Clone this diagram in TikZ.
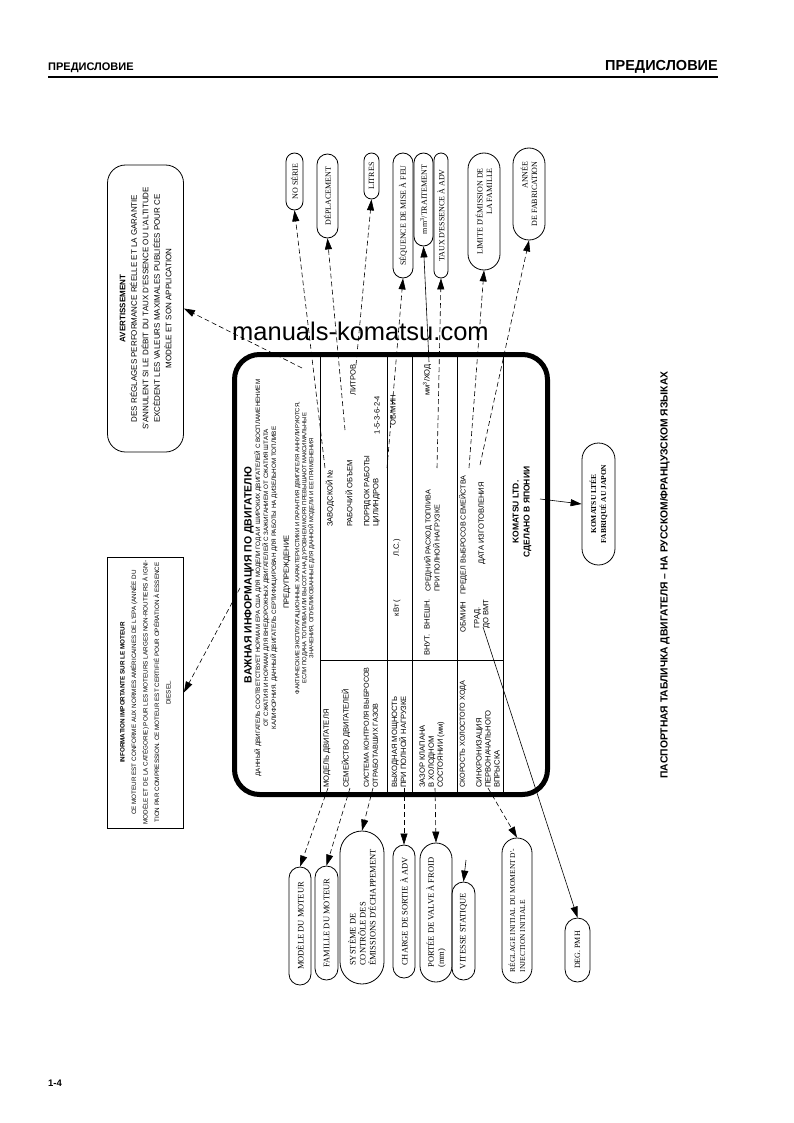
\documentclass[tikz,border=0pt]{standalone}
\usepackage{fontspec}
\setmainfont{Liberation Sans}
\newfontfamily\bubfont{Liberation Serif}
\usetikzlibrary{arrows.meta}
\newcommand\fsz[2]{\fontsize{#1}{#2}\selectfont}
\begin{document}
\begin{tikzpicture}[x=1pt,y=-1pt,
  rt/.style={rotate=90, inner sep=0pt},
  bub/.style={draw, line width=0.8pt, rotate=90, inner sep=1pt, font=\bubfont\fsz{8}{9.5}},
  con/.style={line width=0.6pt, dash pattern=on 5pt off 3pt, -{Triangle[length=11pt,width=7pt]}},
  sol/.style={line width=0.6pt, -{Triangle[length=11pt,width=7pt]}},
  tl/.style={line width=1pt},
  lab/.style={rt, font=\fsz{7.6}{9}},
]
\useasboundingbox (0,0) rectangle (793,1123);
\fill[white] (0,0) rectangle (793,1123);

% header
\node[anchor=west, inner sep=0pt, font=\bfseries\fsz{11}{12}] (hl) at (48,68) {ПРЕДИСЛОВИЕ};
\node[anchor=east, inner sep=0pt, font=\bfseries\fsz{14.5}{16}] (hr) at (718,67) {ПРЕДИСЛОВИЕ};
\draw[line width=2pt] (48,77) -- (718,77);
\node[anchor=west, inner sep=0pt, font=\bfseries\fsz{9.5}{10}] (pg) at (48,1083) {1-4};

% caption
\node[rt, font=\bfseries\fsz{10.3}{12}] (cap) at (665,575) {ПАСПОРТНАЯ ТАБЛИЧКА ДВИГАТЕЛЯ – НА РУССКОМ/ФРАНЦУЗСКОМ ЯЗЫКАХ};

% watermark
\node[anchor=base west, inner sep=0pt, font=\fsz{25.5}{27}] (wm) at (232,340) {manuals-komatsu.com};

% plate
\node[draw, line width=5pt, rounded corners=25pt, minimum width=313pt, minimum height=440pt, inner sep=0pt] (plate) at (391,574.5) {};
\draw[tl] (320,357) -- (320,792);
\draw[tl] (387,357) -- (387,792);
\draw[tl] (412,357) -- (412,792);
\draw[tl] (457,357) -- (457,792);
\draw[tl] (503,357) -- (503,792);
\draw[tl] (320,660) -- (503,660);

\node[rt, font=\bfseries\fsz{10.5}{12}] (ttl) at (249,575) {ВАЖНАЯ ИНФОРМАЦИЯ ПО ДВИГАТЕЛЮ};
\node[rt, align=center, font=\fsz{6.3}{8}] (p1) at (266,578) {ДАННЫЙ ДВИГАТЕЛЬ СООТВЕТСТВУЕТ НОРМАМ EPA США ДЛЯ МОДЕЛИ ГОДА И ШИРОКИХ ДВИГАТЕЛЕЙ С ВОСПЛАМЕНЕНИЕМ\\ОТ СЖАТИЯ И НОРМАМ ДЛЯ ВНЕДОРОЖНЫХ ДВИГАТЕЛЕЙ С ЗАЖИГАНИЕМ ОТ СЖАТИЯ ШТАТА\\КАЛИФОРНИЯ. ДАННЫЙ ДВИГАТЕЛЬ СЕРТИФИЦИРОВАН ДЛЯ РАБОТЫ НА ДИЗЕЛЬНОМ ТОПЛИВЕ};
\node[rt, font=\fsz{7.5}{8}] (warn) at (287,572) {ПРЕДУПРЕЖДЕНИЕ};
\node[rt, align=center, font=\fsz{5.9}{7}] (p2) at (305,548) {ФАКТИЧЕСКИЕ ЭКСПЛУАТАЦИОННЫЕ ХАРАКТЕРИСТИКИ И ГАРАНТИЯ ДВИГАТЕЛЯ АННУЛИРУЮТСЯ,\\ЕСЛИ ПОДАЧА ТОПЛИВА ИЛИ ВЫСОТА НАД УРОВНЕМ МОРЯ ПРЕВЫШАЮТ МАКСИМАЛЬНЫЕ\\ЗНАЧЕНИЯ, ОПУБЛИКОВАННЫЕ ДЛЯ ДАННОЙ МОДЕЛИ И ЕЕ ПРИМЕНЕНИЯ};

% left labels
\node[lab, anchor=west] (l1) at (327,788) {МОДЕЛЬ ДВИГАТЕЛЯ};
\node[lab, anchor=west] (l2) at (346,788) {СЕМЕЙСТВО ДВИГАТЕЛЕЙ};
\node[lab, anchor=west, align=left, font=\fsz{7.2}{9}] (l3) at (371,788) {СИСТЕМА КОНТРОЛЯ ВЫБРОСОВ\\ОТРАБОТАВШИХ ГАЗОВ};
\node[lab, anchor=west, align=left] (l4) at (399,788) {ВЫХОДНАЯ МОЩНОСТЬ\\ПРИ ПОЛНОЙ НАГРУЗКЕ};
\node[lab, anchor=west, align=left] (l5) at (432,788) {ЗАЗОР КЛАПАНА\\В ХОЛОДНОМ\\СОСТОЯНИИ (мм)};
\node[lab, anchor=west, font=\fsz{7.2}{9}] (l6) at (463,788) {СКОРОСТЬ ХОЛОСТОГО ХОДА};
\node[lab, anchor=west, align=left] (l7) at (488,788) {СИНХРОНИЗАЦИЯ\\ПЕРВОНАЧАЛЬНОГО\\ВПРЫСКА};
% middle values
\node[lab] (m4a) at (397,608) {кВт (};
\node[lab] (m4b) at (397,548) {Л.С.)};
\node[lab] (m5a) at (427,645) {ВНУТ.};
\node[lab] (m5b) at (427,614) {ВНЕШН.};
\node[lab] (m6) at (463,617) {ОБ/МИН};
\node[lab, align=left] (m7) at (482,614) {ГРАД.\\ДО ВМТ};
% right labels
\node[lab, anchor=west] (r1) at (330,527) {ЗАВОДСКОЙ №};
\node[lab, anchor=west] (r2) at (349,527) {РАБОЧИЙ ОБЪЕМ};
\node[lab, anchor=west, align=left] (r3) at (372,527) {ПОРЯДОК РАБОТЫ\\ЦИЛИНДРОВ};
\node[lab, anchor=west, align=left, font=\fsz{7.2}{9}] (r5) at (432,592) {СРЕДНИЙ РАСХОД ТОПЛИВА\\ПРИ ПОЛНОЙ НАГРУЗКЕ};
\node[lab, anchor=west, font=\fsz{7.2}{9}] (r6) at (463,595) {ПРЕДЕЛ ВЫБРОСОВ СЕМЕЙСТВА};
\node[lab, anchor=west] (r7) at (482,565) {ДАТА ИЗГОТОВЛЕНИЯ};
% right values
\node[lab] (v2) at (353,380) {ЛИТРОВ};
\node[lab] (v3) at (377,415) {1-5-3-6-2-4};
\node[lab] (v4) at (393,410) {ОБ/МИН};
\node[lab] (v5) at (427,380) {мм\textsuperscript{3}/ХОД};
\node[rt, align=center, font=\bfseries\fsz{8.5}{11}] (kom) at (522,512) {KOMATSU LTD.\\СДЕЛАНО В ЯПОНИИ};

% notes
\node[draw, line width=0.8pt, rounded corners=18pt, rotate=90, minimum width=287pt, minimum height=76pt, align=center, font=\fsz{8}{11.5}] (avert) at (145.5,308.5) {\textbf{AVERTISSEMENT}\\DES RÉGLAGES PERFORMANCE RÉELLE ET LA GARANTIE\\S'ANNULENT SI LE DÉBIT DU TAUX D'ESSENCE OU L'ALTITUDE\\EXCÈDENT LES VALEURS MAXIMALES PUBLIÉES POUR CE\\MODÈLE ET SON APPLICATION};
\node[draw, line width=0.8pt, rotate=90, minimum width=245pt, minimum height=76pt, align=center, font=\fsz{6.3}{11.5}] (info) at (145.5,692.5) {\textbf{INFORMATION IMPORTANTE SUR LE MOTEUR}\\CE MOTEUR EST CONFORME AUX NORMES AMÉRICAINES DE L'EPA (ANNÉE DU\\MODÈLE ET DE LA CATÉGORIE) POUR LES MOTEURS LARGES NON-ROUTIERS À IGNI-\\TION PAR COMPRESSION. CE MOTEUR EST CERTIFIÉ POUR OPÉRATION À ESSENCE\\DIESEL.};

% bubbles top
\node[bub, minimum width=57pt, minimum height=17pt, rounded corners=8.5pt] (bns) at (294.5,181.5) {NO SÉRIE};
\node[bub, minimum width=84pt, minimum height=21pt, rounded corners=10.5pt] (bdep) at (327.5,196) {DÉPLACEMENT};
\node[bub, minimum width=46pt, minimum height=15pt, rounded corners=7.5pt] (blit) at (371.5,176) {LITRES};
\node[bub, minimum width=125pt, minimum height=20pt, rounded corners=10pt] (bseq) at (403,215.5) {SÉQUENCE DE MISE À FEU};
\node[bub, minimum width=93pt, minimum height=19pt, rounded corners=9.5pt] (bmm) at (423.5,199.5) {mm\textsuperscript{3}/TRAITEMENT};
\node[bub, minimum width=125pt, minimum height=14pt, rounded corners=7pt] (btaux) at (441,215.5) {TAUX D'ESSENCE À ADV};
\node[bub, minimum width=117pt, minimum height=32pt, rounded corners=16pt, align=right] (blim) at (484,211.5) {LIMITE D'ÉMISSION DE\\LA FAMILLE};
\node[bub, minimum width=92pt, minimum height=32pt, rounded corners=16pt, align=right] (bann) at (529,194) {ANNÉE\\DE FABRICATION};
% bubbles bottom
\node[bub, minimum width=118pt, minimum height=22pt, rounded corners=11pt, font=\bubfont\fsz{8.5}{10}] (bmod) at (300,926) {MODÈLE DU MOTEUR};
\node[bub, minimum width=114pt, minimum height=23pt, rounded corners=11.5pt, font=\bubfont\fsz{8.5}{10}] (bfam) at (326.5,923) {FAMILLE DU MOTEUR};
\node[bub, minimum width=153pt, minimum height=44pt, rounded corners=22pt, align=left, font=\bubfont\fsz{8.5}{10}] (bsys) at (362,907.5) {SYSTÈME DE\\CONTRÔLE DES\\ÉMISSIONS D'ÉCHAPPEMENT};
\node[bub, minimum width=133pt, minimum height=22pt, rounded corners=11pt, font=\bubfont\fsz{8.5}{10}] (bcha) at (404,911.5) {CHARGE DE SORTIE À ADV};
\node[bub, minimum width=139pt, minimum height=32pt, rounded corners=16pt, align=left, font=\bubfont\fsz{8.5}{10}] (bpor) at (436,912.5) {PORTÉE DE VALVE À FROID\\(mm)};
\node[bub, minimum width=98pt, minimum height=23pt, rounded corners=11.5pt, font=\bubfont\fsz{8.5}{10}] (bvit) at (463.5,931) {VITESSE STATIQUE};
\node[bub, minimum width=145pt, minimum height=30pt, rounded corners=15pt, align=left, font=\bubfont\fsz{7.5}{10}] (breg) at (517,910.5) {RÉGLAGE INITIAL DU MOMENT D'-\\INJECTION INITIALE};
\node[bub, minimum width=64pt, minimum height=25pt, rounded corners=12.5pt] (bdeg) at (577.5,950) {DEG. PMH};
\node[bub, minimum width=122pt, minimum height=33pt, rounded corners=16.5pt, align=center, font=\bubfont\bfseries\fsz{7.5}{10}] (bkom) at (598.5,504) {KOMATSU LTÉE\\FABRIQUÉ AU JAPON};

% connector origins
\coordinate (cns) at (325,468);
\coordinate (cdep) at (345,430);
\coordinate (clit) at (356,365);
\coordinate (cseq) at (387,468);
\coordinate (cmm) at (429,362);
\coordinate (ctaux) at (437,468);
\coordinate (clim) at (469,468);
\coordinate (cann) at (480,465);
\coordinate (cav) at (302,368);
\coordinate (cinf) at (240,588);
\coordinate (cmod) at (328,788);
\coordinate (cfam) at (350,788);
\coordinate (csys) at (373,788);
\coordinate (ccha) at (404,788);
\coordinate (cpor) at (435,788);
\coordinate (cvit) at (466,860);
\coordinate (creg) at (488,788);
\coordinate (cdeg) at (483,627);
\coordinate (ckom) at (540,499);

\draw[con] (cns) -- (bns.west);
\draw[con] (cdep) -- (bdep.west);
\draw[con] (clit) -- (blit.west);
\draw[con] (cseq) -- (bseq.west);
\draw[sol] (cmm) -- (bmm.west);
\draw[con] (ctaux) -- (btaux.west);
\draw[con] (clim) -- (blim.west);
\draw[con] (cann) -- (bann.west);
\draw[con] (cav) -- (avert.south);
\draw[con] (cinf) -- (info.south);
\draw[con] (cmod) -- (bmod.east);
\draw[con] (cfam) -- (bfam.east);
\draw[con] (csys) -- (bsys.east);
\draw[con] (ccha) -- (bcha.east);
\draw[con] (cpor) -- (bpor.east);
\draw[sol] (cvit) -- (bvit.east);
\draw[con] (creg) -- (breg.east);
\draw[sol] (cdeg) -- (bdeg.east);
\draw[sol] (ckom) -- (bkom.north);
\end{tikzpicture}
\end{document}
